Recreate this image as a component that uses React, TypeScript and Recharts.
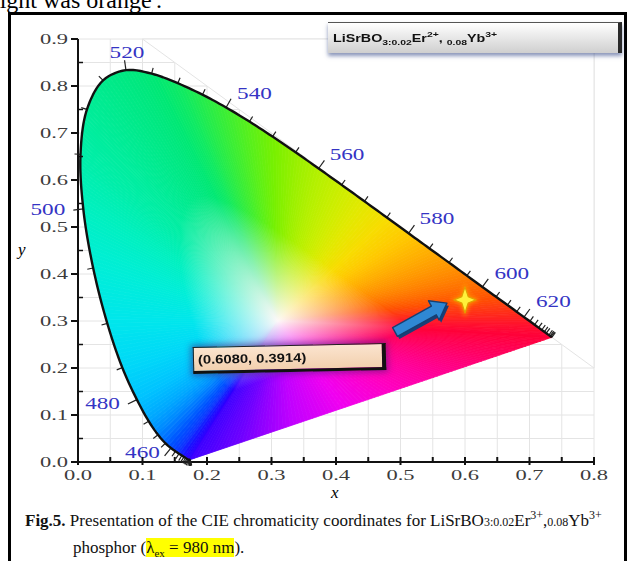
import React from 'react';
import { ScatterChart, Scatter, XAxis, YAxis, CartesianGrid } from 'recharts';

// CIE 1931 spectral locus, read along the outline of the figure
const wavelengths = [
  380, 385, 390, 395, 400, 405, 410, 415, 420, 425, 430, 435, 440, 445, 450, 455, 460, 465, 470, 475,
  480, 485, 490, 495, 500, 505, 510, 515, 520, 525, 530, 535, 540, 545, 550, 555, 560, 565, 570, 575,
  580, 585, 590, 595, 600, 605, 610, 615, 620, 625, 630, 635, 640, 645, 650, 660, 670, 680, 700,
];
const locusX = [
  0.1741, 0.174, 0.1738, 0.1736, 0.1733, 0.173, 0.1726, 0.1721, 0.1714, 0.1703, 0.1689, 0.1669, 0.1644, 0.1611, 0.1566, 0.151, 0.144, 0.1355, 0.1241, 0.1096,
  0.0913, 0.0687, 0.0454, 0.0235, 0.0082, 0.0039, 0.0139, 0.0389, 0.0743, 0.1142, 0.1547, 0.1929, 0.2296, 0.2658, 0.3016, 0.3373, 0.3731, 0.4087, 0.4441, 0.4788,
  0.5125, 0.5448, 0.5752, 0.6029, 0.627, 0.6482, 0.6658, 0.6801, 0.6915, 0.7006, 0.7079, 0.714, 0.719, 0.723, 0.726, 0.73, 0.732, 0.7334, 0.7347,
];
const locusY = [
  0.005, 0.005, 0.0049, 0.0049, 0.0048, 0.0048, 0.0048, 0.0048, 0.0051, 0.0058, 0.0069, 0.0086, 0.0109, 0.0138, 0.0177, 0.0227, 0.0297, 0.0399, 0.0578, 0.0868,
  0.1327, 0.2007, 0.295, 0.4127, 0.5384, 0.6548, 0.7502, 0.812, 0.8338, 0.8262, 0.8059, 0.7816, 0.7543, 0.7243, 0.6923, 0.6589, 0.6245, 0.5896, 0.5547, 0.5202,
  0.4866, 0.4544, 0.4242, 0.3965, 0.3725, 0.3514, 0.334, 0.3197, 0.3083, 0.2993, 0.292, 0.2859, 0.2809, 0.277, 0.274, 0.27, 0.268, 0.2666, 0.2653,
];
const locusColors = [
  '#3a00ff', '#3a00ff', '#3900ff', '#3800ff', '#3600ff', '#3400ff', '#3200ff', '#3000ff', '#2c00ff', '#2800ff', '#2400ff', '#2008ff', '#1a10ff', '#1420ff', '#1030ff', '#0840ff', '#0050ff', '#0068ff', '#0088ff', '#00a8ff',
  '#00c4ff', '#00d8f8', '#00e6ec', '#00eed8', '#00f0c0', '#00eea8', '#00ec98', '#00ea8a', '#00e880', '#00e874', '#10ea62', '#28ec48', '#40ee30', '#5cf018', '#78f000', '#98f000', '#b4f000', '#ccee00', '#e4e800', '#f8dc00',
  '#ffc800', '#ffb000', '#ff9800', '#ff8000', '#ff6800', '#ff5000', '#ff3c10', '#ff2c18', '#ff2020', '#ff1828', '#ff102c', '#ff0c30', '#ff0832', '#ff0634', '#ff0436', '#ff0238', '#ff0038', '#ff0038', '#ff0038',
];
// line of purples, from the red end back to the violet end
const purpleColors = ['#ff0038', '#ff0060', '#ff0090', '#ff00c0', '#f000f0', '#c000ff', '#7000ff', '#3a00ff'];
const labeledWavelengths = [460, 480, 500, 520, 540, 560, 580, 600, 620];

const xTicks = [0, 0.05, 0.1, 0.15, 0.2, 0.25, 0.3, 0.35, 0.4, 0.45, 0.5, 0.55, 0.6, 0.65, 0.7, 0.75, 0.8];
const yTicks = [0, 0.05, 0.1, 0.15, 0.2, 0.25, 0.3, 0.35, 0.4, 0.45, 0.5, 0.55, 0.6, 0.65, 0.7, 0.75, 0.8, 0.85, 0.9];

const whitePoint = { x: 0.31, y: 0.3 };
const gridHullX = [0.1, 0.8, 0.8, 0.75, 0.735, 0.15];
const gridHullY = [0.9, 0.9, 0.2, 0.25, 0.265, 0.85];
const arrowX = [0.4915, 0.572];
const arrowY = [0.2766, 0.338];
const starX = [0.6];
const starY = [0.345];
const coordText = '(0.6080, 0.3914)';

const locusData = [whitePoint, ...wavelengths.map((w, i) => ({ x: locusX[i], y: locusY[i], w }))];
const hullData = gridHullX.map((x, i) => ({ x, y: gridHullY[i] }));
const arrowData = arrowX.map((x, i) => ({ x, y: arrowY[i] }));
const starData = starX.map((x, i) => ({ x, y: starY[i] }));

// label placement relative to the locus point (px): dx, dy, anchor
const labelPlace: Record<number, [number, number, string]> = {
  460: [-11, 10, 'end'],
  480: [-17, 9, 'end'],
  500: [-18, 6, 'end'],
  520: [1, -12, 'middle'],
  540: [11, -8, 'start'],
  560: [11, -8, 'start'],
  580: [11, -9, 'start'],
  600: [12, -8, 'start'],
  620: [12, -10, 'start'],
};

const serif = '"Liberation Serif", "Times New Roman", serif';
const sans = '"Liberation Sans", Arial, sans-serif';

type Pt = { x: number; y: number };
const lerp = (a: Pt, b: Pt, t: number) => ({ x: a.x + (b.x - a.x) * t, y: a.y + (b.y - a.y) * t });
const rgb = (h: string) => [1, 3, 5].map((k) => parseInt(h.slice(k, k + 2), 16));
const mix = (a: string, b: string, t: number) => {
  const A = rgb(a);
  const B = rgb(b);
  return `rgb(${A.map((v, i) => Math.round(v + (B[i] - v) * t)).join(',')})`;
};
const isMajor = (v: number) => Math.abs(Math.round(v * 10) - v * 10) < 1e-6;

// centripetal Catmull-Rom between p1 and p2
const crPoint = (p0: Pt, p1: Pt, p2: Pt, p3: Pt, t: number): Pt => {
  const knot = (a: Pt, b: Pt) => Math.max(Math.sqrt(Math.hypot(b.x - a.x, b.y - a.y)), 1e-3);
  const t0 = 0;
  const t1 = t0 + knot(p0, p1);
  const t2 = t1 + knot(p1, p2);
  const t3 = t2 + knot(p2, p3);
  const u = t1 + (t2 - t1) * t;
  const comb = (a: Pt, b: Pt, ta: number, tb: number): Pt => ({
    x: ((tb - u) / (tb - ta)) * a.x + ((u - ta) / (tb - ta)) * b.x,
    y: ((tb - u) / (tb - ta)) * a.y + ((u - ta) / (tb - ta)) * b.y,
  });
  const A1 = comb(p0, p1, t0, t1);
  const A2 = comb(p1, p2, t1, t2);
  const A3 = comb(p2, p3, t2, t3);
  const B1 = comb(A1, A2, t0, t2);
  const B2 = comb(A2, A3, t1, t3);
  return comb(B1, B2, t1, t2);
};

const noShape = () => <g />;

const renderHull = (props: any) => {
  const pts: Pt[] = props.points || [];
  if (pts.length < 3) return <g />;
  const d = pts.map((p, i) => `${i ? 'L' : 'M'}${p.x},${p.y}`).join(' ') + ' Z';
  return <path d={d} fill="#ffffff" stroke="#e4e4e4" strokeWidth={1} />;
};

const renderGamut = (props: any) => {
  const pts: Pt[] = props.points || [];
  if (pts.length < 3) return <g />;
  const W = pts[0];
  const E = pts.slice(1);
  const n = E.length;

  // smooth edge of the locus with colours
  const smooth: { p: Pt; c: string }[] = [{ p: E[0], c: locusColors[0] }];
  for (let i = 0; i < n - 1; i++) {
    const p1 = E[i];
    const p2 = E[i + 1];
    const p0 = i > 0 ? E[i - 1] : { x: 2 * p1.x - p2.x, y: 2 * p1.y - p2.y };
    const p3 = i < n - 2 ? E[i + 2] : { x: 2 * p2.x - p1.x, y: 2 * p2.y - p1.y };
    const len = Math.hypot(p2.x - p1.x, p2.y - p1.y);
    const m = Math.max(1, Math.ceil(len / 4));
    for (let j = 1; j <= m; j++) {
      const t = j / m;
      const p = len < 0.5 ? lerp(p1, p2, t) : crPoint(p0, p1, p2, p3, t);
      smooth.push({ p, c: mix(locusColors[i], locusColors[i + 1], t) });
    }
  }
  const k = purpleColors.length - 1;
  const purple: { p: Pt; c: string }[] = [];
  for (let j = 0; j < k; j++) {
    const a = lerp(E[n - 1], E[0], j / k);
    const b = lerp(E[n - 1], E[0], (j + 1) / k);
    const len = Math.hypot(b.x - a.x, b.y - a.y);
    const m = Math.max(1, Math.ceil(len / 4));
    for (let s = 0; s < m; s++) purple.push({ p: lerp(a, b, s / m), c: mix(purpleColors[j], purpleColors[j + 1], s / m) });
  }
  const ring = [...smooth, ...purple, smooth[0]];
  const tris: { p0: Pt; p1: Pt; c: string }[] = [];
  for (let i = 0; i < ring.length - 1; i++) {
    tris.push({ p0: ring[i].p, p1: ring[i + 1].p, c: mix(ring[i].c.startsWith('#') ? ring[i].c : '#000000', '#000000', 0) });
  }
  // colours of triangles: use the average of the two ends
  const triColors = ring.slice(0, -1).map((r, i) => [r.c, ring[i + 1].c]);

  const outline = smooth.map((s, i) => `${i ? 'L' : 'M'}${s.p.x.toFixed(2)},${s.p.y.toFixed(2)}`).join(' ');
  const ticks = E.map((p, i) => {
    const a = E[Math.max(0, i - 1)];
    const b = E[Math.min(n - 1, i + 1)];
    let tx = b.x - a.x;
    let ty = b.y - a.y;
    const tl = Math.hypot(tx, ty) || 1;
    tx /= tl;
    ty /= tl;
    let nx = ty;
    let ny = -tx;
    if (nx * (p.x - W.x) + ny * (p.y - W.y) < 0) {
      nx = -nx;
      ny = -ny;
    }
    const len = labeledWavelengths.includes(wavelengths[i]) ? 10 : 6;
    return <line key={`t${i}`} x1={p.x} y1={p.y} x2={p.x + nx * len} y2={p.y + ny * len} stroke="#222" strokeWidth={1.2} />;
  });

  return (
    <g>
      <defs>
        {tris.map((t, i) => {
          const mx = (t.p0.x + t.p1.x) / 2;
          const my = (t.p0.y + t.p1.y) / 2;
          return (
            <linearGradient key={i} id={`cg${i}`} gradientUnits="userSpaceOnUse" x1={mx} y1={my} x2={W.x} y2={W.y}>
              <stop offset="0" stopColor={triColors[i][0]} />
              <stop offset="0.5" stopColor={triColors[i][0]} />
              <stop offset="1" stopColor="#fdf8f8" />
            </linearGradient>
          );
        })}
      </defs>
      {tris.map((t, i) => (
        <polygon
          key={i}
          points={`${W.x},${W.y} ${t.p0.x},${t.p0.y} ${t.p1.x},${t.p1.y}`}
          fill={`url(#cg${i})`}
          stroke={`url(#cg${i})`}
          strokeWidth={0.8}
        />
      ))}
      {ticks}
      <path d={outline} fill="none" stroke="#111" strokeWidth={2.4} strokeLinejoin="round" />
      {labeledWavelengths.map((w) => {
        const p = E[wavelengths.indexOf(w)];
        const [dx, dy, anchor] = labelPlace[w];
        return (
          <text
            key={w}
            transform={`translate(${p.x + dx},${p.y + dy}) scale(1.45,1)`}
            textAnchor={anchor as any}
            fontFamily={serif}
            fontSize={16}
            fill="#3434c4"
          >
            {w}
          </text>
        );
      })}
    </g>
  );
};

const renderArrow = (props: any) => {
  const pts: Pt[] = props.points || [];
  if (pts.length < 2) return <g />;
  const [a, b] = pts;
  const L = Math.hypot(b.x - a.x, b.y - a.y);
  const ux = (b.x - a.x) / L;
  const uy = (b.y - a.y) / L;
  const vx = -uy;
  const vy = ux;
  const base = { x: b.x - ux * 15, y: b.y - uy * 15 };
  const poly = (o: number) =>
    [
      [a.x + vx * 5, a.y + vy * 5],
      [base.x + vx * 5, base.y + vy * 5],
      [base.x + vx * 11, base.y + vy * 11],
      [b.x, b.y],
      [base.x - vx * 11, base.y - vy * 11],
      [base.x - vx * 5, base.y - vy * 5],
      [a.x - vx * 5, a.y - vy * 5],
    ]
      .map(([x, y]) => `${x + o},${y + o * 1.3}`)
      .join(' ');
  return (
    <g>
      <polygon points={poly(2)} fill="#1a3f78" />
      <polygon points={poly(0)} fill="#2f88d4" stroke="#163f72" strokeWidth={1.4} strokeLinejoin="round" />
    </g>
  );
};

const renderStar = (props: any) => {
  const { cx, cy } = props;
  const pts = [
    [0, -13], [3.2, -3.2], [11, 0], [3.2, 3.2], [0, 13], [-3.2, 3.2], [-11, 0], [-3.2, -3.2],
  ]
    .map(([x, y]) => `${cx + x},${cy + y}`)
    .join(' ');
  return (
    <g>
      <defs>
        <filter id="starGlow" x="-50%" y="-50%" width="200%" height="200%">
          <feGaussianBlur stdDeviation="2" />
        </filter>
      </defs>
      <polygon points={pts} fill="#ff9a00" stroke="#ff9a00" strokeWidth={3} filter="url(#starGlow)" opacity={0.85} />
      <polygon points={pts} fill="#fff23a" stroke="#e0a000" strokeWidth={1.2} strokeLinejoin="round" />
    </g>
  );
};

const XTick = (p: any) => {
  const { x, y, payload } = p;
  const v = payload.value as number;
  const major = isMajor(v);
  return (
    <g>
      <line x1={x} x2={x} y1={y - 5} y2={major ? y + 3 : y} stroke="#111" strokeWidth={2} />
      {major && (
        <text transform={`translate(${x},${y + 18}) scale(1.5,1)`} textAnchor="middle" fontFamily={serif} fontSize={15} fill="#3c3c3c">
          {v.toFixed(1)}
        </text>
      )}
    </g>
  );
};

const YTick = (p: any) => {
  const { x, y, payload } = p;
  const v = payload.value as number;
  if (!isMajor(v)) return <line x1={x} x2={x + 5} y1={y} y2={y} stroke="#111" strokeWidth={1.5} />;
  return (
    <g>
      <line x1={x - 7} x2={x} y1={y} y2={y} stroke="#111" strokeWidth={2} />
      <text transform={`translate(${x - 10},${y + 5}) scale(1.5,1)`} textAnchor="end" fontFamily={serif} fontSize={15} fill="#3c3c3c">
        {v.toFixed(1)}
      </text>
    </g>
  );
};

const smallSub: React.CSSProperties = { fontSize: 8, verticalAlign: 'sub', lineHeight: 0 };
const smallSup: React.CSSProperties = { fontSize: 8, verticalAlign: 'super', lineHeight: 0 };
const capSmall: React.CSSProperties = { fontSize: 12 };
const capSup: React.CSSProperties = { fontSize: 12, verticalAlign: 'super', lineHeight: 0 };

export default function App() {
  return (
    <div style={{ position: 'absolute', left: 0, top: 0, width: 630, height: 561, overflow: 'hidden', background: '#fff' }}>
      <div style={{ position: 'absolute', left: -7, top: -12, fontFamily: serif, fontSize: 24, lineHeight: '24px', whiteSpace: 'nowrap' }}>
        light was orange'.
      </div>
      <div style={{ position: 'absolute', left: 8, top: 12, width: 619, height: 570, boxSizing: 'border-box', border: '3px solid #000' }} />

      <div style={{ position: 'absolute', left: 0, top: 0 }}>
        <ScatterChart width={630} height={500} margin={{ top: 39, right: 36, bottom: 8, left: 28 }}>
          <CartesianGrid stroke="#e4e4e4" strokeWidth={1} />
          <XAxis
            type="number"
            dataKey="x"
            domain={[0, 0.8]}
            ticks={xTicks}
            interval={0}
            tick={(p: any) => <XTick {...p} />}
            tickLine={false}
            tickSize={0}
            tickMargin={0}
            axisLine={{ stroke: '#111', strokeWidth: 2 }}
            height={30}
          />
          <YAxis
            type="number"
            dataKey="y"
            domain={[0, 0.9]}
            ticks={yTicks}
            interval={0}
            tick={(p: any) => <YTick {...p} />}
            tickLine={false}
            tickSize={0}
            tickMargin={0}
            axisLine={{ stroke: '#111', strokeWidth: 2 }}
            width={50}
          />
          <Scatter data={hullData} shape={noShape} line={renderHull} isAnimationActive={false} />
          <Scatter data={locusData} shape={noShape} line={renderGamut} isAnimationActive={false} />
          <Scatter data={arrowData} shape={noShape} line={renderArrow} isAnimationActive={false} />
          <Scatter data={starData} shape={renderStar} isAnimationActive={false} />
        </ScatterChart>
      </div>

      <div style={{ position: 'absolute', left: 18, top: 240, fontFamily: serif, fontStyle: 'italic', fontSize: 17 }}>y</div>
      <div style={{ position: 'absolute', left: 331, top: 483, fontFamily: serif, fontStyle: 'italic', fontSize: 17 }}>x</div>

      <div
        style={{
          position: 'absolute',
          left: 328,
          top: 22,
          width: 290,
          height: 30,
          background: 'linear-gradient(#ffffff, #cfcfcf)',
          borderTop: '1px solid #555',
          borderRight: '4px solid #2a2a2a',
          boxShadow: '0 3px 4px rgba(60,80,140,0.6)',
        }}
      >
        <div
          style={{
            position: 'absolute',
            left: 5,
            top: 9,
            fontFamily: sans,
            fontWeight: 'bold',
            fontSize: 11,
            transform: 'scaleX(1.3)',
            transformOrigin: 'left top',
            whiteSpace: 'nowrap',
            color: '#111',
          }}
        >
          LiSrBO<span style={smallSub}>3:0.02</span>Er<span style={smallSup}>2+</span>, <span style={smallSub}>0.08</span>Yb
          <span style={smallSup}>3+</span>
        </div>
      </div>

      <div
        style={{
          position: 'absolute',
          left: 193,
          top: 345,
          width: 188,
          height: 23,
          background: 'linear-gradient(#fbe4cf, #f2d0ae)',
          border: '1px solid #222',
          borderRight: '4px solid #111',
          borderBottom: '3px solid #111',
          boxShadow: '0 0 6px 2px rgba(70,30,120,0.55)',
          transform: 'rotate(-1.2deg)',
        }}
      >
        <div
          style={{
            position: 'absolute',
            left: 4,
            top: 5,
            fontFamily: sans,
            fontWeight: 'bold',
            fontSize: 12.5,
            transform: 'scaleX(1.18)',
            transformOrigin: 'left top',
            whiteSpace: 'nowrap',
            color: '#111',
          }}
        >
          {coordText}
        </div>
      </div>

      <div style={{ position: 'absolute', left: 25, top: 511, fontFamily: serif, fontSize: 17, whiteSpace: 'nowrap', color: '#111' }}>
        <b>Fig.5.</b> Presentation of the CIE chromaticity coordinates for LiSrBO<span style={capSmall}>3:0.02</span>Er
        <span style={capSup}>3+</span>,<span style={capSmall}>0.08</span>Yb<span style={capSup}>3+</span>
      </div>
      <div style={{ position: 'absolute', left: 73, top: 538, fontFamily: serif, fontSize: 17, whiteSpace: 'nowrap', color: '#111' }}>
        phosphor (
        <span style={{ background: '#ffff00' }}>
          λ<span style={{ fontSize: 11, verticalAlign: 'sub', lineHeight: 0 }}>ex</span> = 980 nm
        </span>
        ).
      </div>
    </div>
  );
}
